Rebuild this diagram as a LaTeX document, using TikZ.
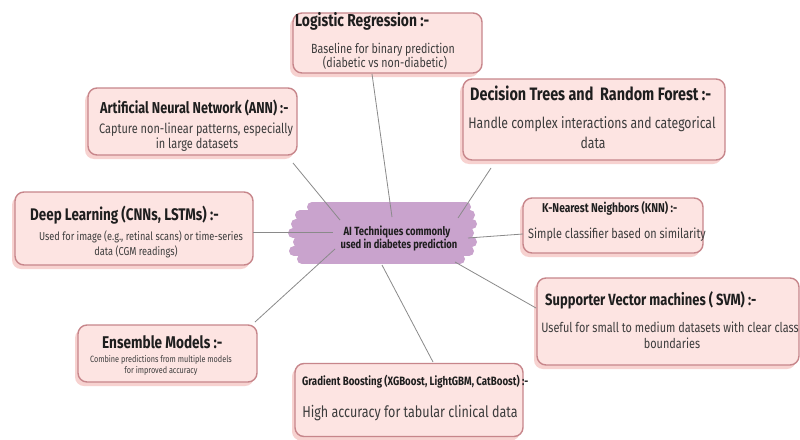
\documentclass[tikz,border=0pt]{standalone}
\usepackage{fontspec}
\setmainfont{Fira Sans}[FakeStretch=0.8]
\usetikzlibrary{shadows}
\definecolor{boxfill}{HTML}{FDE4E2}
\definecolor{boxdraw}{HTML}{C7868B}
\definecolor{shadowc}{HTML}{F7D2D0}
\definecolor{blobc}{HTML}{C9A3CD}
\definecolor{linec}{HTML}{8A8A8A}
\definecolor{titlec}{HTML}{1E1E1E}
\definecolor{subc}{HTML}{3C3C3C}
\newcommand{\fs}[1]{\fontsize{#1}{#1}\selectfont}
\begin{document}
\begin{tikzpicture}[x=1pt,y=-1pt,
  box/.style={draw=boxdraw, line width=1.4pt, fill=boxfill, rounded corners=9pt, inner sep=0pt,
    drop shadow={shadow xshift=-3pt, shadow yshift=-4pt, fill=shadowc, opacity=1}},
  ttl/.style={anchor=base west, inner sep=0pt, text=titlec, font=\bfseries},
  sub/.style={anchor=base, inner sep=0pt, text=subc},
  conn/.style={draw=linec, line width=0.8pt},
  brush/.style={draw=blobc, line width=10pt, line cap=round}]
\useasboundingbox (0,0) rectangle (800,439);
\fill[white] (0,0) rectangle (800,439);

% boxes
\node[box, minimum width=189pt, minimum height=60pt] (lr)  at (387.5,43) {};
\node[box, minimum width=262pt, minimum height=81pt] (dt)  at (594,119.5) {};
\node[box, minimum width=180pt, minimum height=55pt] (knn) at (613,225.5) {};
\node[box, minimum width=262pt, minimum height=87pt] (svm) at (668,321.5) {};
\node[box, minimum width=209pt, minimum height=67pt] (ann) at (192.5,121.5) {};
\node[box, minimum width=238pt, minimum height=73pt] (dl)  at (134,228.5) {};
\node[box, minimum width=179pt, minimum height=57pt] (ens) at (167.5,353.5) {};
\node[box, minimum width=228pt, minimum height=73pt] (gb)  at (409,400) {};

% hub blob
\node[inner sep=0pt, minimum width=180pt, minimum height=62pt] (hub) at (382,233) {};
\draw[brush] (312,207) -- (466,207);
\draw[brush] (300,215) -- (470,215);
\draw[brush] (296,224) -- (472,224);
\draw[brush] (293,233) -- (469,233);
\draw[brush] (298,242) -- (472,242);
\draw[brush] (294,251) -- (469,251);
\draw[brush] (302,259) -- (460,259);

% connector ends
\coordinate (lrE)  at (372,74);   \coordinate (lrH)  at (392,217);
\coordinate (dtE)  at (491,168);  \coordinate (dtH)  at (458,218);
\coordinate (annE) at (293,163);  \coordinate (annH) at (340,220);
\coordinate (dlE)  at (253,232);  \coordinate (dlH)  at (333,232);
\coordinate (ensE) at (255,322);  \coordinate (ensH) at (335,249);
\coordinate (gbE)  at (433,362);  \coordinate (gbH)  at (382,265);
\coordinate (knnE) at (523,234);  \coordinate (knnH) at (468,238);
\coordinate (svmE) at (536,308);  \coordinate (svmH) at (455,262);

\draw[conn] (lrE) -- (lrH);
\draw[conn] (dtE) -- (dtH);
\draw[conn] (annE) -- (annH);
\draw[conn] (dlE) -- (dlH);
\draw[conn] (ensE) -- (ensH);
\draw[conn] (gbE) -- (gbH);
\draw[conn] (knnE) -- (knnH);
\draw[conn] (svmE) -- (svmH);

% hub text
\node[anchor=base, inner sep=0pt, text=titlec, font=\bfseries\fs{11.9}] (hub1) at (397,235) {AI Techniques commonly};
\node[anchor=base, inner sep=0pt, text=titlec, font=\bfseries\fs{11.7}] (hub2) at (399,248) {used in diabetes prediction};

% Logistic Regression
\node[ttl, font=\bfseries\fs{17.3}] (lrT) at (295,27) {Logistic Regression :-};
\node[sub, font=\fs{13.3}] (lrS1) at (383,53) {Baseline for binary prediction};
\node[sub, font=\fs{13.3}] (lrS2) at (385,67) {(diabetic vs non-diabetic)};

% Decision Trees
\node[ttl, font=\bfseries\fs{18}] (dtT) at (470,100) {Decision Trees and \ Random Forest :-};
\node[sub, font=\fs{15.3}] (dtS1) at (592,128) {Handle complex interactions and categorical};
\node[sub, font=\fs{15.3}] (dtS2) at (593,148) {data};

% KNN
\node[ttl, font=\bfseries\fs{12.8}] (knnT) at (542,212) {K-Nearest Neighbors (KNN) :-};
\node[anchor=base west, inner sep=0pt, text=subc, font=\fs{13.6}] (knnS) at (528,238) {Simple classifier based on similarity};

% SVM
\node[ttl, font=\bfseries\fs{16.2}] (svmT) at (545,305) {Supporter Vector machines ( SVM) :-};
\node[sub, font=\fs{13.6}] (svmS1) at (670,332) {Useful for small to medium datasets with clear class};
\node[sub, font=\fs{13.6}] (svmS2) at (672,348) {boundaries};

% ANN
\node[ttl, font=\bfseries\fs{15.8}] (annT) at (100,113) {Artificial Neural Network (ANN) :-};
\node[sub, font=\fs{13.7}] (annS1) at (196,133) {Capture non-linear patterns, especially};
\node[sub, font=\fs{13.7}] (annS2) at (197,148) {in large datasets};

% Deep Learning
\node[ttl, font=\bfseries\fs{16.8}] (dlT) at (30,220) {Deep Learning (CNNs, LSTMs) :-};
\node[sub, font=\fs{11.5}] (dlS1) at (141,240) {Used for image (e.g., retinal scans) or time-series};
\node[sub, font=\fs{11.5}] (dlS2) at (136,255) {data (CGM readings)};

% Ensemble
\node[ttl, font=\bfseries\fs{17}] (ensT) at (102,348) {Ensemble Models :-};
\node[sub, font=\fs{9.1}] (ensS1) at (161,362) {Combine predictions from multiple models};
\node[sub, font=\fs{9.1}] (ensS2) at (161,373) {for improved accuracy};

% Gradient Boosting
\node[ttl, font=\bfseries\fs{12.1}] (gbT) at (302,385) {Gradient Boosting (XGBoost, LightGBM, CatBoost) :-};
\node[sub, font=\fs{15.7}] (gbS) at (410,417) {High accuracy for tabular clinical data};
\end{tikzpicture}
\end{document}
